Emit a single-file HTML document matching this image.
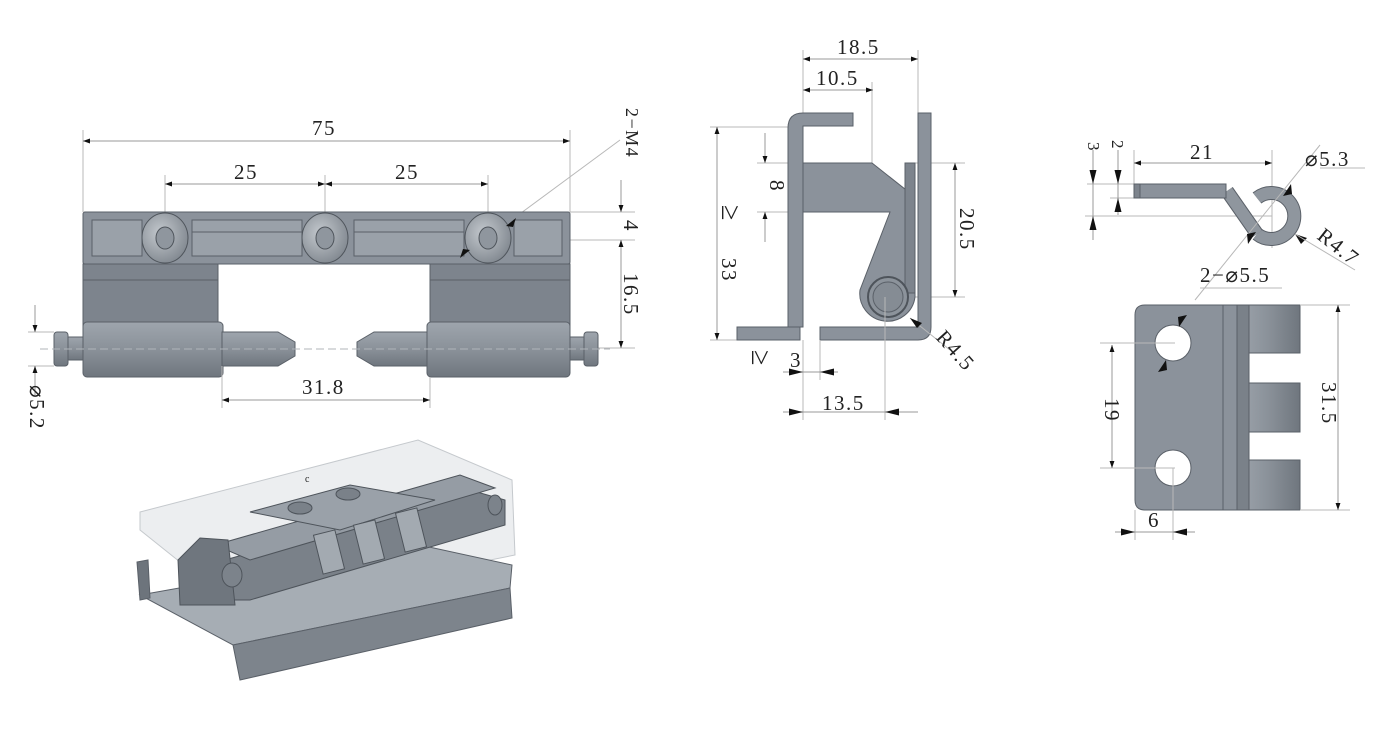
<!DOCTYPE html>
<html><head><meta charset="utf-8"><style>
html,body{margin:0;padding:0;background:#fff;}
svg{display:block}
text{font-family:"Liberation Serif",serif;font-size:21px;fill:#222;letter-spacing:1.5px}
.d{stroke:#b8b8b8;stroke-width:1;fill:none}
.dl{stroke:#999;stroke-width:1;fill:none}
.m{fill:#8b929b;stroke:#5a6068;stroke-width:1}
.m2{fill:#7d848d;stroke:#5a6068;stroke-width:1}
.m3{fill:#9aa1a9;stroke:#5a6068;stroke-width:1}
.ge{font-size:28px}
</style></head><body>
<svg width="1390" height="739" viewBox="0 0 1390 739" xmlns="http://www.w3.org/2000/svg">
<defs>
<marker id="a" viewBox="0 0 10 10" refX="10" refY="5" markerWidth="16" markerHeight="7" markerUnits="userSpaceOnUse" orient="auto-start-reverse"><path d="M0,1.5 L10,5 L0,8.5 z" fill="#111"/></marker>
<linearGradient id="cyl" x1="0" y1="0" x2="0" y2="1"><stop offset="0" stop-color="#9ea5ad"/><stop offset="0.5" stop-color="#8a9199"/><stop offset="1" stop-color="#6f767e"/></linearGradient>
<linearGradient id="cylv" x1="0" y1="0" x2="1" y2="0"><stop offset="0" stop-color="#9ea5ad"/><stop offset="0.5" stop-color="#8a9199"/><stop offset="1" stop-color="#6f767e"/></linearGradient>
<radialGradient id="ws" cx="0.4" cy="0.4" r="0.7"><stop offset="0" stop-color="#c4c9ce"/><stop offset="1" stop-color="#7c838b"/></radialGradient>
</defs>

<!-- ===== FRONT VIEW ===== -->
<g>
<line class="d" x1="83" y1="130" x2="83" y2="212"/>
<line class="d" x1="570" y1="130" x2="570" y2="212"/>
<line class="d" x1="165" y1="175" x2="165" y2="215"/>
<line class="d" x1="325" y1="175" x2="325" y2="215"/>
<line class="d" x1="488" y1="175" x2="488" y2="215"/>
<line class="dl" x1="83" y1="141" x2="570" y2="141" marker-start="url(#a)" marker-end="url(#a)"/>
<text x="312" y="135">75</text>
<line class="dl" x1="165" y1="184" x2="325" y2="184" marker-start="url(#a)" marker-end="url(#a)"/>
<line class="dl" x1="325" y1="184" x2="488" y2="184" marker-start="url(#a)" marker-end="url(#a)"/>
<text x="234" y="179">25</text><text x="395" y="179">25</text>
<line class="d" x1="570" y1="212" x2="635" y2="212"/>
<line class="d" x1="510" y1="240" x2="635" y2="240"/>
<line class="d" x1="598" y1="348" x2="635" y2="348"/>
<line class="dl" x1="621" y1="180" x2="621" y2="212" marker-end="url(#a)"/>
<line class="dl" x1="621" y1="240" x2="621" y2="348" marker-start="url(#a)" marker-end="url(#a)"/>
<text transform="translate(624,220) rotate(90)">4</text>
<text transform="translate(624,273) rotate(90)">16.5</text>
<text transform="translate(626,108) rotate(90)" style="font-size:18px">2−M4</text>
<line class="d" x1="460" y1="258" x2="620" y2="140"/>
<rect class="m" x="83" y="212" width="487" height="52" rx="2"/>
<rect class="m3" x="92" y="220" width="50" height="36"/>
<rect class="m3" x="192" y="220" width="110" height="36"/>
<rect class="m3" x="354" y="220" width="110" height="36"/>
<rect class="m3" x="514" y="220" width="48" height="36"/>
<line x1="192" y1="232" x2="302" y2="232" stroke="#5a6068"/>
<line x1="354" y1="232" x2="464" y2="232" stroke="#5a6068"/>
<g stroke="#4f555c">
<ellipse cx="165" cy="238" rx="23" ry="25" fill="url(#ws)"/><ellipse cx="165" cy="238" rx="9" ry="11" fill="#8f969e"/>
<ellipse cx="325" cy="238" rx="23" ry="25" fill="url(#ws)"/><ellipse cx="325" cy="238" rx="9" ry="11" fill="#8f969e"/>
<ellipse cx="488" cy="238" rx="23" ry="25" fill="url(#ws)"/><ellipse cx="488" cy="238" rx="9" ry="11" fill="#8f969e"/>
</g>
<path d="M470,250 l-10,8 l3,-9 z M506,226 l10,-8 l-3,9 z" fill="#111"/>
<rect class="m2" x="83" y="264" width="135" height="70"/>
<rect class="m2" x="430" y="264" width="140" height="70"/>
<line x1="83" y1="280" x2="218" y2="280" stroke="#5a6068"/>
<line x1="430" y1="280" x2="570" y2="280" stroke="#5a6068"/>
<rect x="83" y="322" width="140" height="55" rx="4" fill="url(#cyl)" stroke="#5a6068"/>
<rect x="427" y="322" width="143" height="55" rx="4" fill="url(#cyl)" stroke="#5a6068"/>
<path d="M222,332 H278 L295,342 V356 L278,366 H222 z" fill="url(#cyl)" stroke="#5a6068"/>
<path d="M427,332 H374 L357,342 V356 L374,366 H427 z" fill="url(#cyl)" stroke="#5a6068"/>
<rect x="66" y="337" width="17" height="23" fill="url(#cyl)" stroke="#5a6068"/>
<rect x="54" y="332" width="14" height="34" rx="3" fill="url(#cyl)" stroke="#5a6068"/>
<rect x="570" y="337" width="16" height="23" fill="url(#cyl)" stroke="#5a6068"/>
<rect x="584" y="332" width="14" height="34" rx="3" fill="url(#cyl)" stroke="#5a6068"/>
<line x1="40" y1="349" x2="610" y2="349" stroke="#b0b5ba" stroke-dasharray="8,4"/>
<line class="d" x1="28" y1="332" x2="54" y2="332"/>
<line class="d" x1="28" y1="366" x2="54" y2="366"/>
<line class="dl" x1="35" y1="305" x2="35" y2="332" marker-end="url(#a)"/>
<line class="dl" x1="35" y1="395" x2="35" y2="366" marker-end="url(#a)"/>
<text transform="translate(30,385) rotate(90)">⌀5.2</text>
<line class="d" x1="222" y1="366" x2="222" y2="408"/>
<line class="d" x1="430" y1="377" x2="430" y2="408"/>
<line class="dl" x1="222" y1="400" x2="430" y2="400" marker-start="url(#a)" marker-end="url(#a)"/>
<text x="302" y="394">31.8</text>
</g>

<!-- ===== 3D VIEW ===== -->
<g>
<polygon points="140,512 418,440 512,480 515,555 240,610 140,530" fill="#eceef0" stroke="#c5c9cd"/>
<!-- base -->
<polygon points="140,595 420,545 512,565 510,588 233,645" fill="#a6adb4" stroke="#5a6068"/>
<polygon points="233,645 510,588 512,618 240,680" fill="#7d848c" stroke="#5a6068"/>
<polygon points="137,562 148,560 150,598 140,600" fill="#6d747c" stroke="#5a6068"/>
<!-- body -->
<polygon points="225,560 470,490 505,500 505,525 250,600 225,600" fill="#7a8189" stroke="#4e545b"/>
<polygon points="215,545 460,475 495,488 250,560" fill="#959ca4" stroke="#4e545b"/>
<polygon points="250,512 350,485 435,500 340,530" fill="#9aa1a9" stroke="#4e545b"/>
<ellipse cx="300" cy="508" rx="12" ry="6" fill="#7a8189" stroke="#4e545b"/>
<ellipse cx="348" cy="494" rx="12" ry="6" fill="#7a8189" stroke="#4e545b"/>
<g stroke="#4e545b" fill="#a3aab1">
<rect x="318" y="532" width="22" height="40" transform="rotate(-14 329 552)"/>
<rect x="358" y="522" width="22" height="40" transform="rotate(-14 369 542)"/>
<rect x="400" y="510" width="22" height="40" transform="rotate(-14 411 530)"/>
</g>
<polygon points="178,560 200,538 228,540 235,605 180,605" fill="#6f767e" stroke="#4e545b"/>
<ellipse cx="232" cy="575" rx="10" ry="12" fill="#7c838b" stroke="#4e545b"/>
<ellipse cx="495" cy="505" rx="7" ry="10" fill="#7c838b" stroke="#4e545b"/>
<text x="305" y="482" style="font-size:10px">c</text>
</g>

<!-- ===== SIDE VIEW ===== -->
<g>
<line class="d" x1="803" y1="50" x2="803" y2="115"/>
<line class="d" x1="918" y1="50" x2="918" y2="113"/>
<line class="d" x1="872" y1="82" x2="872" y2="163"/>
<line class="dl" x1="803" y1="59" x2="918" y2="59" marker-start="url(#a)" marker-end="url(#a)"/>
<text x="837" y="54">18.5</text>
<line class="dl" x1="803" y1="90" x2="873" y2="90" marker-start="url(#a)" marker-end="url(#a)"/>
<text x="816" y="85">10.5</text>
<line class="d" x1="710" y1="127" x2="790" y2="127"/>
<line class="d" x1="710" y1="340" x2="737" y2="340"/>
<line class="dl" x1="717" y1="127" x2="717" y2="340" marker-start="url(#a)" marker-end="url(#a)"/>
<text class="ge" transform="translate(722,205) rotate(90)">≥</text>
<text transform="translate(722,258) rotate(90)">33</text>
<line class="d" x1="757" y1="163" x2="805" y2="163"/>
<line class="d" x1="757" y1="212" x2="805" y2="212"/>
<line class="dl" x1="765" y1="133" x2="765" y2="163" marker-end="url(#a)"/>
<line class="dl" x1="765" y1="242" x2="765" y2="212" marker-end="url(#a)"/>
<text transform="translate(770,180) rotate(90)">8</text>
<line class="d" x1="915" y1="163" x2="965" y2="163"/>
<line class="d" x1="888" y1="297" x2="965" y2="297"/>
<line class="dl" x1="955" y1="163" x2="955" y2="297" marker-start="url(#a)" marker-end="url(#a)"/>
<text transform="translate(960,208) rotate(90)">20.5</text>
<path class="m" d="M788,340 V128 Q788,113 803,113 H853 V126 H803 V327 H800 V340 z"/>
<rect class="m" x="737" y="327" width="63" height="13"/>
<path class="m" d="M820,327 H918 V113 H931 V327 Q931,340 918,340 H820 z"/>
<path class="m" d="M803,163 H872 L915,197 V297 A27,27 0 1 1 860,290 L890,212 H803 z"/>
<rect class="m2" x="905" y="163" width="10" height="130"/>
<circle cx="888" cy="297" r="20" fill="#8c939b" stroke="#4e545b" stroke-width="2"/>
<circle cx="888" cy="297" r="15" fill="#858c94" stroke="#5a6068"/>
<line class="d" x1="885" y1="297" x2="885" y2="420"/>
<line class="d" x1="803" y1="340" x2="803" y2="420"/>
<line class="d" x1="820" y1="340" x2="820" y2="380"/>
<line class="d" x1="910" y1="318" x2="950" y2="350"/>
<path d="M910,318 l12,5 l-5,5 z" fill="#111"/>
<text transform="translate(935,338) rotate(48)">R4.5</text>
<line class="dl" x1="783" y1="372" x2="838" y2="372"/>
<path d="M803,372 l-14,-3.5 v7 z M820,372 l14,-3.5 v7 z" fill="#111"/>
<text x="790" y="367">3</text>
<text class="ge" transform="translate(752,350) rotate(90)">≥</text>
<line class="dl" x1="783" y1="412" x2="918" y2="412"/>
<path d="M803,412 l-14,-3.5 v7 z M885,412 l14,-3.5 v7 z" fill="#111"/>
<text x="822" y="410">13.5</text>
</g>

<!-- ===== RIGHT VIEWS ===== -->
<g>
<line class="d" x1="1087" y1="184" x2="1134" y2="184"/>
<line class="d" x1="1085" y1="216" x2="1272" y2="216"/>
<line class="d" x1="1110" y1="198" x2="1134" y2="198"/>
<line class="d" x1="1134" y1="150" x2="1134" y2="184"/>
<line class="d" x1="1272" y1="150" x2="1272" y2="248"/>
<line class="dl" x1="1134" y1="163" x2="1272" y2="163" marker-start="url(#a)" marker-end="url(#a)"/>
<text x="1190" y="159">21</text>
<line class="dl" x1="1093" y1="150" x2="1093" y2="240"/>
<path d="M1093,184 l-3.5,-14 h7 z M1093,216 l-3.5,14 h7 z" fill="#111"/>
<line class="dl" x1="1118" y1="150" x2="1118" y2="215"/>
<path d="M1118,184 l-3.5,-14 h7 z M1118,198 l-3.5,14 h7 z" fill="#111"/>
<text transform="translate(1088,142) rotate(90)" style="font-size:17px">3</text>
<text transform="translate(1112,140) rotate(90)" style="font-size:17px">2</text>
<!-- hook -->
<path d="M1257,198 A23,23 0 1 1 1257,234" fill="none" stroke="#5a6068" stroke-width="14"/>
<path d="M1257,198 A23,23 0 1 1 1257,234" fill="none" stroke="#8f969e" stroke-width="12"/>
<path d="M1227,191 L1257,234" fill="none" stroke="#5a6068" stroke-width="14"/>
<path d="M1227,191 L1257,234" fill="none" stroke="#8f969e" stroke-width="12"/>
<rect class="m" x="1134" y="184" width="92" height="14"/>
<rect class="m2" x="1134" y="184" width="6" height="14"/>
<line class="d" x1="1195" y1="300" x2="1320" y2="145"/>
<line class="d" x1="1320" y1="168" x2="1365" y2="168"/>
<path d="M1283,196 l8,-12 l1,10 z M1256,232 l-8,12 l-1,-10 z" fill="#111"/>
<text x="1305" y="166">⌀5.3</text>
<path d="M1295,234 l12,4 l-6,6 z" fill="#111"/>
<line class="d" x1="1295" y1="234" x2="1355" y2="270"/>
<text transform="translate(1316,238) rotate(38)">R4.7</text>
<text x="1200" y="282">2−⌀5.5</text>
<line class="d" x1="1200" y1="288" x2="1282" y2="288"/>
<path class="m" d="M1145,305 H1237 V510 H1145 Q1135,510 1135,500 V315 Q1135,305 1145,305 z"/>
<line x1="1223" y1="305" x2="1223" y2="510" stroke="#5a6068"/>
<g stroke="#5a6068">
<rect x="1237" y="305" width="63" height="48" fill="url(#cylv)"/>
<rect x="1237" y="383" width="63" height="49" fill="url(#cylv)"/>
<rect x="1237" y="460" width="63" height="50" fill="url(#cylv)"/>
<rect x="1237" y="305" width="12" height="205" fill="#7a8189"/>
</g>
<circle cx="1173" cy="343" r="18" fill="#fff" stroke="#5a6068"/>
<circle cx="1173" cy="468" r="18" fill="#fff" stroke="#5a6068"/>
<path d="M1187,315 l-8,12 l-1,-10 z M1158,372 l8,-12 l1,10 z" fill="#111"/>
<line class="d" x1="1100" y1="343" x2="1175" y2="343"/>
<line class="d" x1="1100" y1="468" x2="1175" y2="468"/>
<line class="dl" x1="1112" y1="345" x2="1112" y2="468" marker-start="url(#a)" marker-end="url(#a)"/>
<text transform="translate(1105,398) rotate(90)">19</text>
<line class="d" x1="1300" y1="305" x2="1350" y2="305"/>
<line class="d" x1="1300" y1="510" x2="1350" y2="510"/>
<line class="dl" x1="1338" y1="305" x2="1338" y2="510" marker-start="url(#a)" marker-end="url(#a)"/>
<text transform="translate(1322,382) rotate(90)">31.5</text>
<line class="d" x1="1135" y1="510" x2="1135" y2="540"/>
<line class="d" x1="1173" y1="468" x2="1173" y2="540"/>
<line class="dl" x1="1115" y1="532" x2="1195" y2="532"/>
<path d="M1135,532 l-14,-3.5 v7 z M1173,532 l14,-3.5 v7 z" fill="#111"/>
<text x="1148" y="527">6</text>
</g>
</svg>
</body></html>
